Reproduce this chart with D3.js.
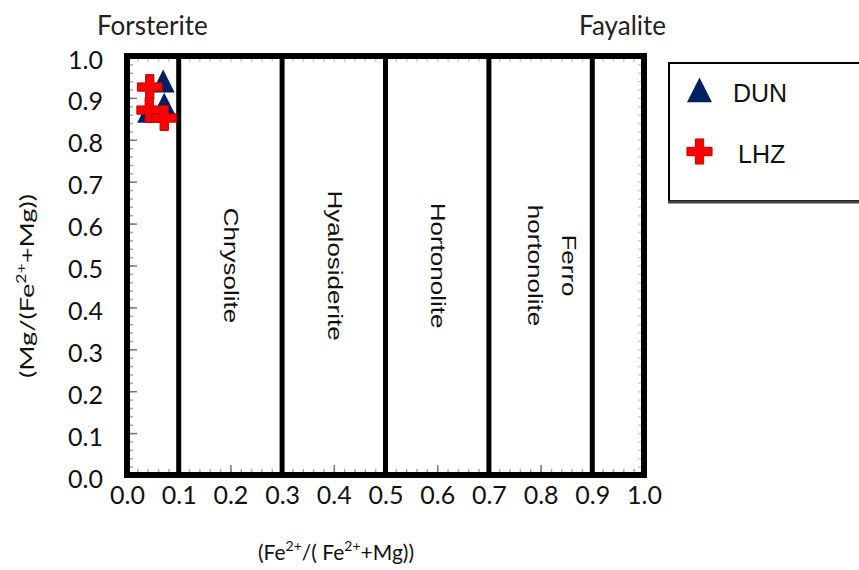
<!DOCTYPE html>
<html>
<head>
<meta charset="utf-8">
<script src="https://cdn.jsdelivr.net/npm/d3@7"></script>
<style>
	body { margin: 0; background: #fff; }
	svg { display: block; }
</style>
</head>
<body>
<div class="graph"></div>
<script>

// olivine composition data
const dunX = [0.070, 0.072, 0.042];
const dunY = [0.931, 0.876, 0.859];
const lhzX = [0.044, 0.043, 0.072];
const lhzY = [0.926, 0.871, 0.852];

const tickValues = [0, 0.1, 0.2, 0.3, 0.4, 0.5, 0.6, 0.7, 0.8, 0.9, 1.0];
const boundaries = [0.1, 0.3, 0.5, 0.7, 0.9];
const regionNames = [["Chrysolite"], ["Hyalosiderite"], ["Hortonolite"], ["Ferro", "hortonolite"]];
const regionCenters = [0.2, 0.4, 0.6, 0.8];
const seriesNames = ["DUN", "LHZ"];

function drawChart(){

	let width = 859;
	let height = 570;

	let svg = d3.select(".graph")
		.append("svg")
		.attr("width", width)
		.attr("height", height);

	let x = d3.scaleLinear().domain([0, 1]).range([127, 644]);
	let y = d3.scaleLinear().domain([0, 1]).range([475, 56]);

	let tickFont = "Lato, 'Open Sans', sans-serif";
	let arial = "'Liberation Sans', Arial, sans-serif";

	// faint minor ticks inside the frame
	let minor = d3.range(0, 1.0001, 0.02);
	function innerTicks(axis, transform, size, colour){
		svg.append("g")
			.attr("transform", transform)
			.call(axis.tickSize(size).tickFormat(""))
			.call(g => g.select(".domain").remove())
			.selectAll("line").attr("stroke", colour).attr("stroke-width", 1.5);
	}
	innerTicks(d3.axisTop(x).tickValues(minor), "translate(0," + y(0) + ")", 6, "#aaa");
	innerTicks(d3.axisRight(y).tickValues(minor), "translate(" + x(0) + ",0)", 6, "#aaa");
	innerTicks(d3.axisBottom(x).tickValues(minor), "translate(0," + y(1) + ")", 6, "#ccc");
	innerTicks(d3.axisLeft(y).tickValues(minor), "translate(" + x(1) + ",0)", 6, "#ccc");
	innerTicks(d3.axisTop(x).tickValues(tickValues), "translate(0," + y(0) + ")", 10, "#777");
	innerTicks(d3.axisRight(y).tickValues(tickValues), "translate(" + x(0) + ",0)", 10, "#777");

	// field boundaries
	svg.selectAll(".boundary")
		.data(boundaries)
		.enter().append("line")
		.attr("class", "boundary")
		.attr("x1", d => x(d))
		.attr("x2", d => x(d))
		.attr("y1", y(1))
		.attr("y2", y(0))
		.attr("stroke", "#000")
		.attr("stroke-width", 5);

	// frame
	svg.append("rect")
		.attr("x", x(0))
		.attr("y", y(1))
		.attr("width", x(1) - x(0))
		.attr("height", y(0) - y(1))
		.attr("fill", "none")
		.attr("stroke", "#000")
		.attr("stroke-width", 6);

	// tick labels
	let xAxis = svg.append("g")
		.attr("transform", "translate(0," + y(0) + ")")
		.call(d3.axisBottom(x).tickValues(tickValues).tickSize(0).tickPadding(11).tickFormat(d3.format(".1f")));
	xAxis.select(".domain").remove();
	xAxis.selectAll("text")
		.attr("font-family", tickFont)
		.attr("font-size", 25)
		.attr("fill", "#111");

	let yAxis = svg.append("g")
		.attr("transform", "translate(" + (x(0) - 24) + ",4)")
		.call(d3.axisLeft(y).tickValues(tickValues).tickSize(0).tickPadding(0).tickFormat(d3.format(".1f")));
	yAxis.select(".domain").remove();
	yAxis.selectAll("text")
		.attr("font-family", tickFont)
		.attr("font-size", 25)
		.attr("fill", "#111");

	// field names, rotated to read top-down (stretched like the original)
	let labels = svg.selectAll(".region")
		.data(regionNames)
		.enter().append("text")
		.attr("class", "region")
		.attr("transform", (d, i) => "translate(" + (x(regionCenters[i]) + (d.length > 1 ? 21 : -6)) + "," + y(0.5) + ") rotate(90) scale(1.3,1)")
		.attr("text-anchor", "middle")
		.attr("font-family", arial)
		.attr("font-size", 20)
		.attr("fill", "#111");
	labels.each(function(d){
		d3.select(this).selectAll("tspan")
			.data(d)
			.enter().append("tspan")
			.attr("x", 0)
			.attr("dy", (t, i) => i == 0 ? 0 : "1.7em")
			.text(String);
	});

	// end members
	svg.append("text")
		.attr("x", 97).attr("y", 35)
		.attr("font-family", tickFont).attr("font-size", 26).attr("fill", "#222")
		.text("Forsterite");
	svg.append("text")
		.attr("x", 666).attr("y", 35)
		.attr("text-anchor", "end")
		.attr("font-family", tickFont).attr("font-size", 26).attr("fill", "#222")
		.text("Fayalite");

	// axis titles with superscripts
	let xt = svg.append("text")
		.attr("x", 336).attr("y", 560)
		.attr("text-anchor", "middle")
		.attr("font-family", tickFont).attr("font-size", 21).attr("fill", "#111");
	xt.append("tspan").text("(Fe");
	xt.append("tspan").attr("dy", -9).attr("font-size", 14).text("2+");
	xt.append("tspan").attr("dy", 9).text("/( Fe");
	xt.append("tspan").attr("dy", -9).attr("font-size", 14).text("2+");
	xt.append("tspan").attr("dy", 9).text("+Mg))");

	let yt = svg.append("text")
		.attr("transform", "translate(34,286) rotate(-90) scale(1.36,1)")
		.attr("text-anchor", "middle")
		.attr("font-family", tickFont).attr("font-size", 20).attr("fill", "#111");
	yt.append("tspan").text("(Mg/(Fe");
	yt.append("tspan").attr("dy", -8).attr("font-size", 13).text("2+");
	yt.append("tspan").attr("dy", 8).text("+Mg))");

	// points
	let dun = dunX.map((v, i) => ({x: v, y: dunY[i]}));
	let lhz = lhzX.map((v, i) => ({x: v, y: lhzY[i]}));

	let tri = d3.symbol().type(d3.symbolTriangle).size(230);
	let cross = d3.symbol().type(d3.symbolCross).size(340);

	svg.selectAll(".dun")
		.data(dun)
		.enter().append("path")
		.attr("class", "dun")
		.attr("d", tri)
		.attr("transform", d => "translate(" + x(d.x) + "," + y(d.y) + ") scale(1,1.15)")
		.attr("fill", "#002060");

	svg.selectAll(".lhz")
		.data(lhz)
		.enter().append("path")
		.attr("class", "lhz")
		.attr("d", cross)
		.attr("transform", d => "translate(" + x(d.x) + "," + y(d.y) + ")")
		.attr("fill", "#ff0000")
		.attr("stroke", "#c00000")
		.attr("stroke-width", 1);

	// legend
	let legend = svg.append("g");
	legend.append("rect")
		.attr("x", 669).attr("y", 63)
		.attr("width", 210).attr("height", 138)
		.attr("fill", "#fff")
		.attr("stroke", "#000")
		.attr("stroke-width", 2);
	legend.append("line")
		.attr("x1", 668).attr("x2", 859)
		.attr("y1", 202).attr("y2", 202)
		.attr("stroke", "#444")
		.attr("stroke-width", 3);

	legend.append("path")
		.attr("d", d3.symbol().type(d3.symbolTriangle).size(270))
		.attr("transform", "translate(699.5,94) scale(1,1.15)")
		.attr("fill", "#002060");
	legend.append("path")
		.attr("d", d3.symbol().type(d3.symbolCross).size(350))
		.attr("transform", "translate(699.5,151.5)")
		.attr("fill", "#ff0000")
		.attr("stroke", "#c00000")
		.attr("stroke-width", 1);

	legend.selectAll(".leg-text")
		.data(seriesNames)
		.enter().append("text")
		.attr("class", "leg-text")
		.attr("x", (d, i) => i == 0 ? 733 : 738)
		.attr("y", (d, i) => i == 0 ? 102 : 163)
		.attr("font-family", arial)
		.attr("font-size", 25)
		.attr("fill", "#111")
		.text(d => d);
}

drawChart();
</script>
</body>
</html>
